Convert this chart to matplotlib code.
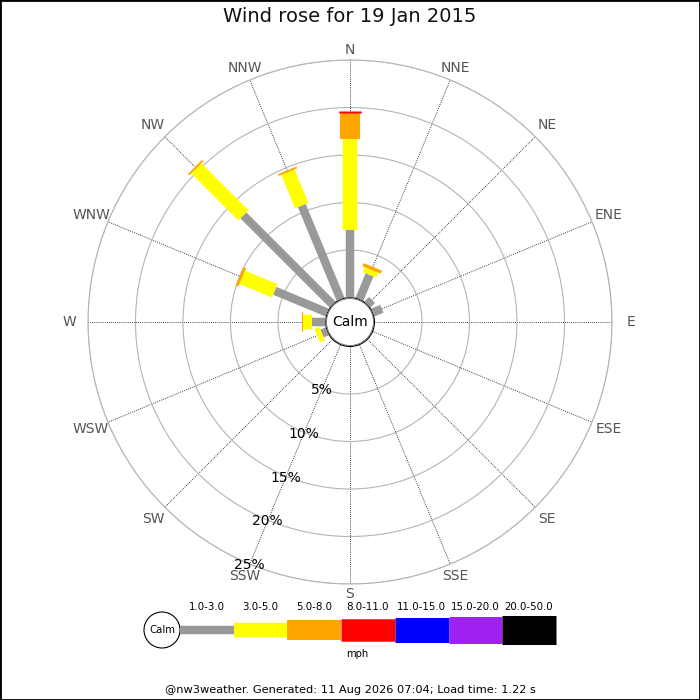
import numpy as np
import matplotlib
matplotlib.use("Agg")
import matplotlib.pyplot as plt
from matplotlib.patches import Circle, Rectangle

# ---------------- data ----------------
title = "Wind rose for 19 Jan 2015"
footer = "@nw3weather. Generated: 11 Aug 2026 07:04; Load time: 1.22 s"
directions = ["N", "NNE", "NE", "ENE", "E", "ESE", "SE", "SSE",
              "S", "SSW", "SW", "WSW", "W", "WNW", "NW", "NNW"]
bands = ["1.0-3.0", "3.0-5.0", "5.0-8.0", "8.0-11.0", "11.0-15.0", "15.0-20.0", "20.0-50.0"]
band_colors = ["#999999", "#ffff00", "#ffa500", "#ff0000", "#0000ff", "#a020f0", "#000000"]
unit_label = "mph"
calm_label = "Calm"
# percentage of time per direction in each speed band
pct_1_3   = [7.1, 2.8, 0.7, 1.05, 0, 0, 0, 0, 0, 0, 0, 0.6, 1.45, 6.0, 13.3, 10.7]
pct_3_5   = [9.6, 0.55, 0, 0, 0, 0, 0, 0, 0, 0, 0, 0.55, 0.9, 3.7, 7.0, 3.8]
pct_5_8   = [2.7, 0.35, 0, 0, 0, 0, 0, 0, 0, 0, 0, 0, 0.15, 0.3, 0.2, 0.2]
pct_8_11  = [0.2, 0, 0, 0, 0, 0, 0, 0, 0, 0, 0, 0, 0, 0, 0, 0]
pct_11_15 = [0] * 16
pct_15_20 = [0] * 16
pct_20_50 = [0] * 16
ring_ticks = [5, 10, 15, 20, 25]

band_values = [pct_1_3, pct_3_5, pct_5_8, pct_8_11, pct_11_15, pct_15_20, pct_20_50]

# ---------------- styling ----------------
W = H = 700
PX = 9.5          # pixels per percent
R0 = 24.5         # pixel radius of zero percent
RMAX = ring_ticks[-1]
R_OUT = R0 + RMAX * PX
CX, CY = 350, 322  # centre in pixel coords (from top)
band_lw = [6.1, 10.4, 14.4, 16.2, 18.0, 19.4, 20.9]  # points

fig = plt.figure(figsize=(7, 7), dpi=100)
fig.patch.set_facecolor("white")

ax = fig.add_axes([(CX - R_OUT) / W, (H - CY - R_OUT) / H, 2 * R_OUT / W, 2 * R_OUT / H],
                  projection="polar")
ax.set_theta_zero_location("N")
ax.set_theta_direction(-1)
ax.set_ylim(0, RMAX)
ax.set_rorigin(-R0 / PX)
ax.set_facecolor("white")

theta = np.deg2rad(np.arange(len(directions)) * 360.0 / len(directions))
ax.set_xticks(theta)
ax.set_xticklabels([])
ax.set_yticks(ring_ticks)
ax.set_yticklabels([])
ax.tick_params(length=0)
ax.yaxis.grid(True, color="#b4b4b4", lw=0.8, ls="-")
ax.xaxis.grid(True, color="#000000", lw=0.6, ls=(0, (1, 1.5)))
ax.spines["polar"].set_color("#b4b4b4")
ax.spines["polar"].set_linewidth(0.8)
ax.spines["inner"].set_visible(False)

# bars
cum = np.zeros(len(directions))
for k, vals in enumerate(band_values):
    vals = np.asarray(vals, dtype=float)
    for i in range(len(directions)):
        if vals[i] > 0:
            ax.plot([theta[i], theta[i]], [cum[i], cum[i] + vals[i]],
                    color=band_colors[k], lw=band_lw[k], solid_capstyle="butt", zorder=3)
    cum += vals

# direction labels
for i, d in enumerate(directions):
    r_px = 272 + 9 * abs(np.sin(theta[i]))
    ax.text(theta[i], (r_px - R0) / PX, d, ha="center", va="center",
            color="#555555", fontsize=10, clip_on=False)

# ring labels along SSW spoke
ang = np.deg2rad(202.5)
for v in ring_ticks:
    ax.text(ang, v + 0.15, f"{v}%", ha="center", va="center", color="black", fontsize=10, zorder=5)

# calm circle
ax.add_patch(Circle((0.5, 0.5), 23.5 / (2 * R_OUT), transform=ax.transAxes,
                    facecolor="white", edgecolor="#666666", lw=0.6, zorder=6, clip_on=False))
ax.text(0.5, 0.5, calm_label, transform=ax.transAxes, ha="center", va="center",
        fontsize=10, color="black", zorder=7)

# title
fig.text(0.5, 1 - 17 / H, title, ha="center", va="center", fontsize=14, color="#111111")

# ---------------- legend ----------------
lx0, lx1, ly0, ly1 = 135, 565, 598, 662
lax = fig.add_axes([lx0 / W, (H - ly1) / H, (lx1 - lx0) / W, (ly1 - ly0) / H])
lax.set_xlim(lx0, lx1)
lax.set_ylim(ly1, ly0)
lax.axis("off")
calm_x, calm_y, calm_r = 162, 630, 18
lax.add_patch(Circle((calm_x, calm_y), calm_r, facecolor="white", edgecolor="black", lw=0.8))
lax.text(calm_x, calm_y, calm_label, ha="center", va="center", fontsize=7.3)
seg = 53.7
start = calm_x + calm_r
for k, b in enumerate(bands):
    x0 = start + k * seg
    lax.plot([x0, x0 + seg], [calm_y, calm_y], color=band_colors[k], lw=band_lw[k],
             solid_capstyle="butt")
    lax.text(x0 + seg / 2, 607, b, ha="center", va="center", fontsize=7.4)
lax.text(start + 3.3 * seg, 654, unit_label, ha="center", va="center", fontsize=7.2)

# footer
fig.text(0.5, 1 - 690 / H, footer, ha="center", va="center", fontsize=8.2)

# border
fig.patches.append(Rectangle((0, 0), 1, 1, transform=fig.transFigure, fill=False,
                             edgecolor="black", lw=2))

fig.savefig("out.png", dpi=100)
